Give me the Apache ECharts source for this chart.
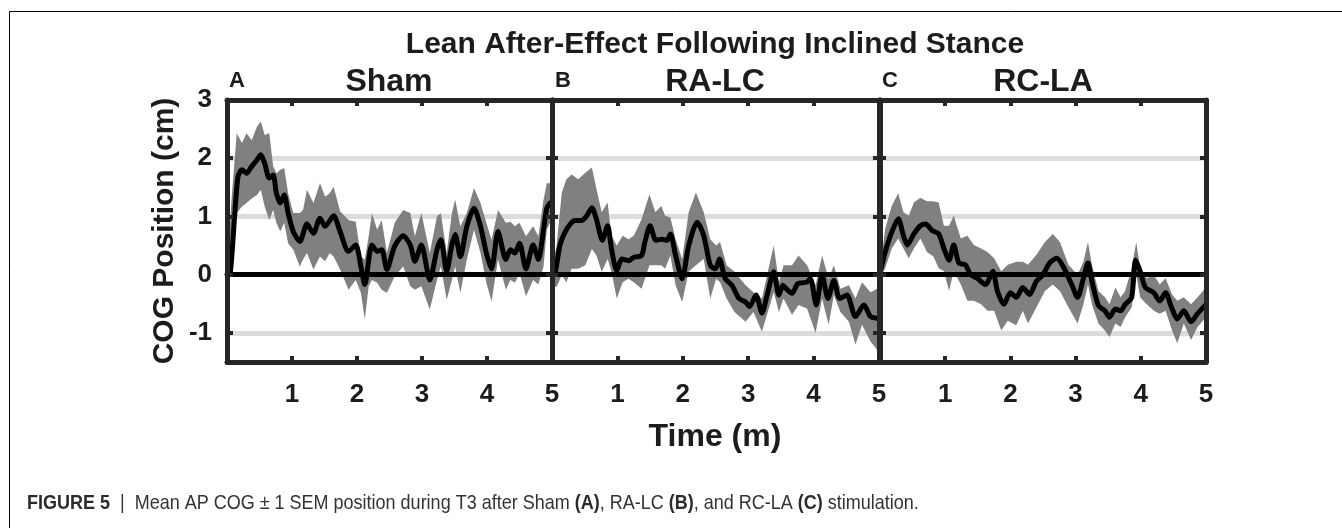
<!DOCTYPE html>
<html>
<head>
<meta charset="utf-8">
<script src="https://cdn.jsdelivr.net/npm/echarts@6/dist/echarts.min.js"></script>
<style>html,body{margin:0;padding:0;background:#fff}#c{width:1342px;height:528px}</style>
</head>
<body>
<div id="c"></div>
<script>
// ---------- Data ----------
const panelTitles = ['Sham', 'RA-LC', 'RC-LA'];
const panelLetters = ['A', 'B', 'C'];
const xTicks = [0, 1, 2, 3, 4, 5];
const yTickLabels = [-1, 0, 1, 2, 3];
const yTickMarks = [-1, 0, 1, 2];
const gridValues = [-1, 1, 2];

// Sham (A): mean line
const shamT = [0,0.05,0.12,0.17,0.23,0.30,0.38,0.46,0.52,0.58,0.65,0.71,0.76,0.82,0.88,0.94,1.02,1.12,1.23,1.33,1.43,1.51,1.64,1.74,1.87,1.98,2.06,2.12,2.23,2.31,2.38,2.46,2.58,2.71,2.82,2.89,2.99,3.12,3.23,3.29,3.38,3.46,3.51,3.59,3.69,3.80,3.90,3.99,4.07,4.17,4.29,4.36,4.43,4.50,4.60,4.71,4.79,4.87,4.92,4.97];
const shamMean = [0,0.03,1.05,1.69,1.8,1.74,1.86,1.97,2.06,1.91,1.66,1.71,1.4,1.23,1.37,1.06,0.74,0.57,0.87,0.71,0.97,0.83,1.01,0.74,0.4,0.51,0.14,-0.17,0.51,0.4,0.43,0.09,0.49,0.67,0.51,0.23,0.51,-0.09,0.43,0.6,0.06,0.51,0.69,0.31,0.83,1.14,0.83,0.37,0.1,0.74,0.26,0.43,0.37,0.54,0.1,0.51,0.26,0.77,1.14,1.23];
// Sham (A): SEM band
const shamBandT = [0,0.07,0.15,0.23,0.30,0.38,0.46,0.52,0.58,0.65,0.71,0.76,0.82,0.88,0.94,1.02,1.12,1.17,1.23,1.33,1.43,1.51,1.58,1.64,1.74,1.87,1.98,2.06,2.12,2.18,2.23,2.31,2.38,2.46,2.58,2.71,2.82,2.89,2.99,3.12,3.23,3.29,3.38,3.46,3.51,3.59,3.69,3.80,3.90,3.99,4.07,4.17,4.29,4.36,4.43,4.50,4.60,4.71,4.79,4.87,4.92,4.97];
const shamUpper = [0.03,1.3,2.43,2.26,2.43,2.31,2.54,2.63,2.4,2.43,1.86,1.74,1.8,1.83,1.4,1.06,1.06,1.11,1.46,1.23,1.57,1.34,1.4,1.51,1.09,0.94,0.91,0.31,0.26,0.66,1.06,0.77,0.94,0.37,0.89,1.11,1.06,0.66,1.06,0.37,1.0,1.06,0.37,1.06,1.29,0.83,1.06,1.49,1.23,0.89,0.6,1.11,0.89,0.91,0.83,0.89,0.66,0.83,0.66,1.29,1.57,1.57];
const shamLower = [-0.15,0.2,1.06,1.17,1.23,1.31,1.37,1.46,1.17,0.94,1.11,0.89,0.74,0.89,0.54,0.43,0.14,0.26,0.37,0.09,0.31,0.23,0.37,0.31,0.09,-0.26,-0.09,-0.31,-0.77,-0.2,-0.09,-0.14,-0.26,-0.31,-0.03,0.14,-0.2,-0.26,-0.2,-0.6,-0.09,0.14,-0.43,-0.09,0.14,-0.31,0.26,0.77,0.37,-0.14,-0.46,0.26,-0.26,-0.09,-0.14,0.03,-0.37,-0.09,-0.17,0.14,0.77,0.89];

// RA-LC (B): mean line
const ralcT = [0,0.05,0.12,0.2,0.28,0.35,0.45,0.53,0.61,0.68,0.77,0.85,0.91,0.99,1.07,1.17,1.25,1.37,1.42,1.5,1.59,1.68,1.76,1.81,1.89,1.99,2.09,2.22,2.32,2.42,2.5,2.56,2.65,2.75,2.86,2.96,3.02,3.12,3.21,3.29,3.39,3.47,3.53,3.58,3.67,3.76,3.89,3.95,4.04,4.13,4.22,4.31,4.4,4.51,4.64,4.77,4.87,4.97];
const ralcMean = [0,0.05,0.5,0.73,0.87,0.93,0.93,1.01,1.15,0.95,0.59,0.84,0.44,0.07,0.27,0.24,0.3,0.33,0.56,0.84,0.59,0.61,0.59,0.7,0.33,-0.07,0.5,0.9,0.67,0.16,0.1,0.27,-0.07,-0.18,-0.41,-0.47,-0.55,-0.35,-0.66,-0.35,0.05,-0.35,-0.18,-0.24,-0.32,-0.15,-0.13,-0.07,-0.52,-0.01,-0.41,-0.1,-0.41,-0.35,-0.72,-0.52,-0.72,-0.75];
// RA-LC (B): SEM band
const ralcBandT = [0,0.07,0.15,0.22,0.3,0.4,0.51,0.61,0.68,0.76,0.85,0.91,0.99,1.08,1.17,1.25,1.37,1.49,1.58,1.67,1.73,1.81,1.89,1.99,2.09,2.2,2.32,2.42,2.51,2.57,2.67,2.79,2.96,3.08,3.21,3.3,3.39,3.47,3.54,3.67,3.77,3.9,4.03,4.13,4.23,4.31,4.41,4.54,4.64,4.74,4.87,4.97];
const ralcUpper = [0.1,0.5,1.41,1.64,1.72,1.64,1.75,1.84,1.47,1.07,1.24,0.67,0.5,0.67,0.61,0.67,0.95,1.38,1.07,1.18,1.01,0.98,0.61,0.27,1.07,1.41,1.07,0.61,0.5,0.56,0.16,0.05,-0.18,-0.3,-0.41,0.05,0.5,-0.13,0.16,0.16,0.33,0.16,-0.18,0.33,-0.07,0.16,-0.24,-0.18,-0.41,-0.13,-0.3,-0.24];
const ralcLower = [-0.18,-0.21,-0.01,-0.13,0.1,0.1,0.16,0.44,0.33,0.05,0.27,0.05,-0.41,-0.13,-0.07,-0.13,-0.24,0.16,0.16,0.16,0.1,0.33,-0.18,-0.47,0.05,0.16,0.27,-0.41,-0.07,-0.13,-0.41,-0.64,-0.81,-0.64,-0.98,-0.64,-0.3,-0.64,-0.41,-0.69,-0.52,-0.58,-1.0,-0.41,-0.86,-0.35,-0.64,-0.81,-1.2,-0.86,-1.15,-1.29];

// RC-LA (C): mean line
const rclaT = [0,0.08,0.18,0.28,0.36,0.42,0.52,0.62,0.7,0.8,0.9,0.98,1.06,1.13,1.21,1.31,1.39,1.49,1.62,1.73,1.8,1.9,2.0,2.09,2.19,2.29,2.4,2.5,2.6,2.71,2.81,2.94,3.03,3.12,3.19,3.25,3.35,3.45,3.52,3.61,3.69,3.76,3.86,3.92,3.99,4.07,4.2,4.29,4.38,4.47,4.56,4.66,4.77,4.87,5.0];
const rclaMean = [0.03,0.39,0.73,0.96,0.67,0.51,0.7,0.84,0.87,0.76,0.7,0.45,0.25,0.51,0.2,0.17,0,-0.06,-0.17,0.06,-0.28,-0.51,-0.31,-0.39,-0.22,-0.34,-0.11,0,0.2,0.28,0.14,-0.17,-0.39,-0.06,0.2,-0.11,-0.53,-0.62,-0.73,-0.59,-0.62,-0.51,-0.39,0.25,0.06,-0.22,-0.31,-0.45,-0.31,-0.56,-0.76,-0.62,-0.81,-0.67,-0.51];
// RC-LA (C): SEM band
const rclaBandT = [0,0.08,0.18,0.28,0.36,0.44,0.52,0.62,0.72,0.82,0.9,0.98,1.06,1.13,1.24,1.34,1.44,1.55,1.65,1.75,1.86,1.96,2.09,2.19,2.27,2.4,2.53,2.65,2.76,2.89,3.03,3.12,3.19,3.25,3.35,3.45,3.52,3.61,3.69,3.76,3.86,3.93,3.99,4.09,4.2,4.29,4.38,4.48,4.56,4.66,4.77,4.87,5.0];
const rclaUpper = [0.11,0.79,1.18,1.4,1.07,1.01,1.24,1.32,1.26,1.26,1.24,0.84,0.84,1.01,0.62,0.67,0.51,0.45,0.39,0.28,0.06,0.17,0.22,0.22,0.17,0.34,0.56,0.7,0.56,0.17,0,0.22,0.56,0.17,-0.28,-0.39,-0.51,-0.22,-0.39,-0.28,0.11,0.56,0.11,-0.06,0,-0.17,-0.06,-0.34,-0.45,-0.39,-0.51,-0.39,-0.22];
const rclaLower = [-0.06,0.11,0.45,0.62,0.45,0.28,0.45,0.62,0.39,0.31,0.11,0.06,-0.28,0.06,-0.17,-0.45,-0.45,-0.51,-0.62,-0.62,-0.96,-0.79,-0.87,-0.62,-0.84,-0.56,-0.28,-0.17,-0.28,-0.56,-0.84,-0.51,-0.17,-0.51,-0.84,-0.96,-1.07,-0.84,-0.9,-0.73,-0.56,0,-0.39,-0.51,-0.62,-0.67,-0.62,-0.96,-1.18,-0.84,-1.12,-0.9,-0.73];

const panels = [
  {t: shamT, mean: shamMean, bt: shamBandT, up: shamUpper, lo: shamLower},
  {t: ralcT, mean: ralcMean, bt: ralcBandT, up: ralcUpper, lo: ralcLower},
  {t: rclaT, mean: rclaMean, bt: rclaBandT, up: rclaUpper, lo: rclaLower}
];

// ---------- Layout ----------
const FONT = '"Liberation Sans", Arial, Helvetica, sans-serif';
const INK = '#1c1c1c';
const FRAME = '#262626';
const gridsLayout = [
  {left: 227, top: 100, width: 325, height: 262},
  {left: 552, top: 100, width: 327, height: 262},
  {left: 880, top: 100, width: 326, height: 262}
];
const titleX = [389, 715, 1043];
const letterX = [229, 555, 882];

const grid = [], xAxis = [], yAxis = [], series = [];
const axisLineStyle = {show: true, onZero: false, lineStyle: {color: FRAME, width: 5}};
const tickStyle = {show: true, inside: true, length: 6, lineStyle: {color: FRAME, width: 4}};

panels.forEach((p, i) => {
  grid.push(Object.assign({containLabel: false}, gridsLayout[i]));
  xAxis.push({
    type: 'value', gridIndex: i, min: 0, max: 5, interval: 1, position: 'bottom', z: 10,
    axisLine: axisLineStyle, axisTick: tickStyle, splitLine: {show: false},
    axisLabel: {show: true, margin: 20, color: INK, fontFamily: FONT, fontWeight: 'bold', fontSize: 26,
      formatter: v => (v === 0 ? '' : String(v))}
  });
  xAxis.push({
    type: 'value', gridIndex: i, min: 0, max: 5, interval: 1, position: 'top', z: 10,
    axisLine: axisLineStyle, axisTick: tickStyle, splitLine: {show: false}, axisLabel: {show: false}
  });
  yAxis.push({
    type: 'value', gridIndex: i, min: -1.5, max: 3, position: 'left', z: 10,
    axisLine: axisLineStyle,
    axisTick: Object.assign({customValues: yTickMarks}, tickStyle),
    splitLine: {show: false},
    axisLabel: {show: i === 0, customValues: yTickLabels, margin: 15, color: INK, fontFamily: FONT,
      fontWeight: 'bold', fontSize: 26, formatter: v => (Number.isInteger(v) ? String(v) : '')}
  });
  yAxis.push({
    type: 'value', gridIndex: i, min: -1.5, max: 3, position: 'right', z: 10,
    axisLine: axisLineStyle,
    axisTick: Object.assign({customValues: yTickMarks}, tickStyle),
    splitLine: {show: false}, axisLabel: {show: false}
  });

  // light horizontal grid lines (below band)
  series.push({
    type: 'line', xAxisIndex: 2 * i, yAxisIndex: 2 * i, data: [], silent: true,
    markLine: {silent: true, symbol: 'none', z: 1, animation: false, label: {show: false},
      lineStyle: {color: '#dcdcdc', width: 5, type: 'solid'},
      data: gridValues.map(v => ({yAxis: v}))}
  });

  // SEM band as one polygon (through the axes' scales)
  series.push({
    type: 'custom', xAxisIndex: 2 * i, yAxisIndex: 2 * i, z: 2, silent: true, animation: false,
    data: p.bt.map((t, k) => [t, p.up[k], p.lo[k]]),
    encode: {x: 0, y: [1, 2]},
    renderItem: function (params, api) {
      if (params.dataIndexInside !== 0) return null;
      const n = params.dataInsideLength;
      const pts = [];
      for (let k = 0; k < n; k++) pts.push(api.coord([api.value(0, k), api.value(1, k)]));
      for (let k = n - 1; k >= 0; k--) pts.push(api.coord([api.value(0, k), api.value(2, k)]));
      return {type: 'polygon', shape: {points: pts}, style: {fill: '#808080'}};
    }
  });

  // mean line with zero reference line
  series.push({
    type: 'line', xAxisIndex: 2 * i, yAxisIndex: 2 * i, z: 4, silent: true, animation: false,
    data: p.t.map((t, k) => [t, p.mean[k]]),
    showSymbol: false, symbol: 'none', smooth: 0.25,
    lineStyle: {color: '#000', width: 5, join: 'round', cap: 'round'},
    markLine: {silent: true, symbol: 'none', z: 3, animation: false, label: {show: false},
      lineStyle: {color: '#000', width: 5, type: 'solid'},
      data: [{yAxis: 0}]}
  });
});

const textEl = (text, x, y, font, align, extra) => Object.assign({
  type: 'text', x: x, y: y, silent: true, z: 20,
  style: {text: text, font: font, fill: INK, align: align || 'center', verticalAlign: 'middle'}
}, extra || {});

const CAPFONT = '"Liberation Sans", Arial, sans-serif';
const graphic = [
  {type: 'rect', silent: true, z: 0, shape: {x: 9.5, y: 11.5, width: 1500, height: 700},
    style: {fill: 'none', stroke: '#000', lineWidth: 1}},
  textEl('Lean After-Effect Following Inclined Stance', 715, 45, 'bold 30px ' + FONT),
  textEl('Time (m)', 715, 437, 'bold 32px ' + FONT),
  textEl('COG Position (cm)', 165, 231, 'bold 30px ' + FONT, 'center', {rotation: Math.PI / 2}),
  {
    type: 'text', x: 27, y: 503, silent: true, z: 20, scaleX: 0.857,
    style: {
      text: '{b|FIGURE 5}{n|  |  Mean AP COG ± 1 SEM position during T3 after Sham }{b|(A)}{n|, RA-LC }{b|(B)}{n|, and RC-LA }{b|(C)}{n| stimulation.}',
      align: 'left', verticalAlign: 'middle',
      rich: {
        b: {font: 'bold 21px ' + CAPFONT, fill: '#2b2b2b'},
        n: {font: '21px ' + CAPFONT, fill: '#333'}
      }
    }
  }
];
panelTitles.forEach((t, i) => {
  graphic.push(textEl(t, titleX[i], 82, 'bold 32px ' + FONT));
  graphic.push(textEl(panelLetters[i], letterX[i], 81, 'bold 22px ' + FONT, 'left'));
});

const chart = echarts.init(document.getElementById('c'), null, {renderer: 'canvas'});
chart.setOption({
  animation: false,
  backgroundColor: '#fff',
  grid: grid, xAxis: xAxis, yAxis: yAxis, series: series, graphic: graphic
});
</script>
</body>
</html>
